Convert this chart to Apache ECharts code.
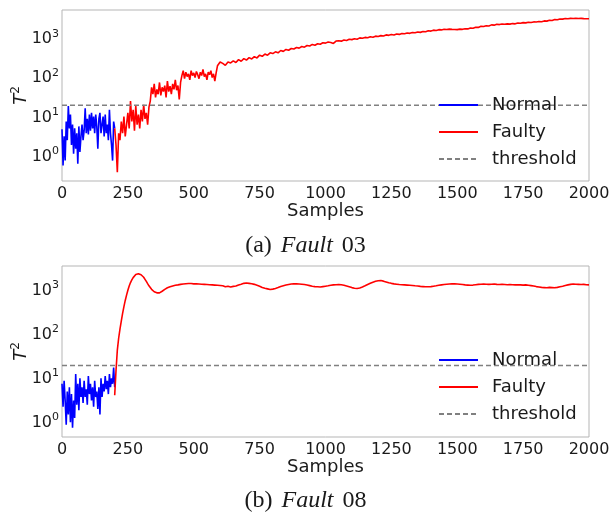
<!DOCTYPE html>
<html>
<head>
<meta charset="utf-8">
<script src="https://cdn.jsdelivr.net/npm/echarts@6/dist/echarts.min.js"></script>
<style>
  html, body { margin: 0; padding: 0; background: #fff; }
  #chart { width: 611px; height: 515px; }
</style>
</head>
<body>
<div id="chart"></div>
<script>
// x-axis ticks
var xTicks = [0, 250, 500, 750, 1000, 1250, 1500, 1750, 2000];
var threshold = 15.6;

// Fault 03 -- normal part, one value every 4 samples from 0 to 200
var normalA = [3.8, 0.45, 2.5, 0.6, 6, 2, 15, 4, 9, 1.5, 5, 0.9, 4, 1.2, 3, 0.5, 4.5, 1.0, 2.5, 5,
  2, 3.5, 13, 3, 7, 2.8, 9, 3.5, 10, 4, 8, 3, 9, 4.5, 1.2, 7, 10, 3, 5, 8,
  2.5, 9, 3, 5, 2, 12, 3, 1.5, 0.6, 6, 4];
// Fault 03 -- faulty part, every 5 samples from 200 to 600
var faultyA1 = [4, 1.5, 0.3, 3, 2, 6, 3, 8, 2.5, 5, 10, 4, 20, 6, 12, 3.5, 15, 5, 9, 4,
  12, 6, 16, 7, 10, 5, 14, 20, 45, 30, 55, 25, 40, 30, 60, 28, 45, 35, 50, 25,
  65, 35, 48, 30, 55, 40, 70, 38, 50, 22, 60, 90, 120, 75, 110, 85, 100, 70, 120, 90,
  105, 80, 115, 95, 75, 110, 90, 130, 85, 100, 70, 110, 95, 120, 80, 100, 65, 105, 160, 180,
  200];
// Fault 03 -- faulty part, every 10 samples from 610 to 2000
var faultyA2 = [185, 165, 200, 190, 215, 195, 230, 210, 245, 225, 260, 240, 275, 255, 300, 280, 320, 300, 345, 330,
  365, 345, 395, 375, 420, 400, 445, 430, 470, 455, 500, 480, 530, 515, 565, 540, 590, 570, 625, 610,
  650, 635, 600, 690, 700, 685, 735, 715, 765, 750, 790, 770, 830, 810, 855, 835, 885, 865, 920, 905,
  950, 930, 990, 965, 1010, 985, 1040, 1020, 1080, 1060, 1110, 1085, 1140, 1120, 1170, 1150, 1210, 1190, 1260, 1240,
  1310, 1290, 1350, 1330, 1380, 1360, 1390, 1370, 1360, 1350, 1390, 1375, 1430, 1410, 1490, 1470, 1560, 1540, 1640, 1620,
  1700, 1680, 1790, 1760, 1850, 1820, 1880, 1850, 1900, 1870, 1930, 1900, 1990, 1960, 2040, 2010, 2090, 2060, 2130, 2110,
  2180, 2150, 2260, 2230, 2340, 2310, 2440, 2410, 2540, 2510, 2600, 2570, 2630, 2600, 2640, 2600, 2620, 2580, 2570, 2560];

// Fault 08 -- normal part, every 4 samples from 0 to 200
var normalB = [6, 1.8, 7, 2.5, 0.7, 4, 1.2, 5, 0.8, 3.5, 0.6, 2.5, 1.0, 10, 2, 6, 1.5, 8, 3, 5,
  2.2, 7, 3, 4.5, 2, 9, 3.5, 6, 2.5, 5, 1.8, 7, 3, 4, 1.6, 5, 1.2, 8, 3, 6,
  4, 9, 4.5, 7, 3.5, 10, 5, 8, 6, 14, 5];
// Fault 08 -- faulty part, every 5 samples from 200 to 600
var faultyB1 = [3.3, 12, 35, 65, 105, 160, 240, 340, 470, 620, 800, 1000, 1200, 1380, 1550, 1700, 1820, 1880, 1900, 1870,
  1800, 1700, 1580, 1420, 1270, 1130, 1010, 910, 840, 780, 740, 710, 700, 690, 700, 720, 760, 800, 840, 880,
  910, 940, 960, 980, 1000, 1020, 1040, 1050, 1060, 1080, 1090, 1100, 1110, 1120, 1130, 1140, 1140, 1130, 1140, 1130,
  1120, 1110, 1120, 1100, 1110, 1090, 1100, 1080, 1090, 1070, 1080, 1060, 1070, 1050, 1060, 1040, 1050, 1030, 1040, 1020,
  1030];
// Fault 08 -- faulty part, every 10 samples from 610 to 2000
var faultyB2 = [1010, 960, 990, 950, 980, 1000, 1060, 1100, 1150, 1170, 1150, 1130, 1090, 1040, 990, 930, 890, 860, 830, 850,
  880, 920, 970, 1010, 1050, 1080, 1110, 1130, 1120, 1110, 1100, 1080, 1050, 1020, 990, 970, 960, 950, 970, 990,
  1010, 1040, 1060, 1070, 1080, 1070, 1040, 1000, 960, 920, 890, 880, 900, 950, 1010, 1080, 1150, 1220, 1280, 1320,
  1330, 1290, 1240, 1190, 1150, 1120, 1100, 1080, 1070, 1060, 1050, 1040, 1030, 1010, 1000, 980, 970, 960, 960, 970,
  990, 1010, 1040, 1060, 1080, 1100, 1110, 1120, 1120, 1110, 1100, 1080, 1060, 1050, 1040, 1050, 1070, 1090, 1100, 1110,
  1100, 1090, 1100, 1110, 1090, 1080, 1090, 1080, 1070, 1080, 1070, 1060, 1070, 1060, 1050, 1060, 1040, 1020, 1000, 970,
  950, 930, 920, 910, 930, 920, 910, 930, 960, 990, 1030, 1060, 1090, 1110, 1100, 1090, 1080, 1090, 1070, 1060];

function pairs(start, step, vals) {
  return vals.map(function (v, i) { return [start + i * step, v]; });
}

var chart = echarts.init(document.getElementById('chart'));
var font = 'DejaVu Sans';
var ink = '#1a1a1a';

function xAxisOf(idx) {
  return {
    type: 'value', gridIndex: idx, min: 0, max: 2000, interval: 250,
    name: 'Samples', nameLocation: 'middle', nameGap: 21, nameMoveOverlap: false,
    nameTextStyle: { fontFamily: font, fontSize: 18, color: ink },
    axisLine: { show: false }, axisTick: { show: false }, splitLine: { show: false },
    axisLabel: {
      margin: 5, fontFamily: font, fontSize: 16, color: ink,
      formatter: function (v) { return String(v); }
    }
  };
}

function yAxisOf(idx, lo, hi) {
  return {
    type: 'log', logBase: 10, gridIndex: idx, min: lo, max: hi,
    name: '{i|T}{s|2}', nameLocation: 'middle', nameGap: 30, nameRotate: 90, nameMoveOverlap: false,
    nameTextStyle: {
      rich: {
        i: { fontFamily: font, fontStyle: 'italic', fontSize: 18, color: ink },
        s: { fontFamily: font, fontSize: 12, color: ink, padding: [0, 0, 10, 0] }
      }
    },
    axisLine: { show: false }, axisTick: { show: false }, splitLine: { show: false },
    axisLabel: {
      margin: 3, showMinLabel: false, showMaxLabel: false, padding: [9, 0, 0, 0],
      formatter: function (v) {
        return '{b|10}{s|' + Math.round(Math.log10(v)) + '}';
      },
      rich: {
        b: { fontFamily: font, fontSize: 16, color: ink },
        s: { fontFamily: font, fontSize: 11, color: ink, padding: [0, 0, 10, 0] }
      }
    }
  };
}

function seriesOf(idx, normal, f1, f2) {
  var line = { type: 'line', xAxisIndex: idx, yAxisIndex: idx, symbol: 'none', showSymbol: false, animation: false };
  return [
    Object.assign({}, line, { name: 'Normal', data: pairs(0, 4, normal), lineStyle: { color: '#0000ff', width: 1.6 }, itemStyle: { color: '#0000ff' } }),
    Object.assign({}, line, { name: 'Faulty', data: pairs(200, 5, f1).concat(pairs(610, 10, f2)), lineStyle: { color: '#ff0000', width: 1.6 }, itemStyle: { color: '#ff0000' } }),
    Object.assign({}, line, { name: 'threshold', data: [[0, threshold], [2000, threshold]], lineStyle: { color: '#808080', width: 1.5, type: [5, 3] }, itemStyle: { color: '#808080' } })
  ];
}

function legendOf(top) {
  return {
    orient: 'vertical', left: 433, top: top, itemWidth: 39, itemHeight: 14, itemGap: 9,
    selectedMode: false,
    itemStyle: { opacity: 0 },
    textStyle: { fontFamily: font, fontSize: 18, color: ink, padding: [0, 0, 0, 9] },
    data: ['Normal', 'Faulty', 'threshold']
  };
}

var caption = function (letter, num, y) {
  return {
    type: 'text', left: 'center', top: y,
    style: {
      text: '{n|(' + letter + ') }{i|Fault}{n| ' + num + '}',
      rich: {
        n: { fontFamily: 'Liberation Serif', fontSize: 24, fill: ink },
        i: { fontFamily: 'Liberation Serif', fontStyle: 'italic', fontSize: 24, fill: ink, padding: [0, 3, 0, 3] }
      }
    }
  };
};

chart.setOption({
  backgroundColor: '#fff',
  animation: false,
  grid: [
    { left: 62, top: 10, width: 527, height: 171, show: true, borderColor: '#b5b5b5', borderWidth: 1, outerBoundsMode: 'none', containLabel: false },
    { left: 62, top: 266, width: 527, height: 171, show: true, borderColor: '#b5b5b5', borderWidth: 1, outerBoundsMode: 'none', containLabel: false }
  ],
  xAxis: [xAxisOf(0), xAxisOf(1)],
  yAxis: [yAxisOf(0, 0.18, 4300), yAxisOf(1, 0.37, 2850)],
  legend: [legendOf(91), legendOf(346)],
  series: seriesOf(0, normalA, faultyA1, faultyA2).concat(seriesOf(1, normalB, faultyB1, faultyB2)),
  graphic: [caption('a', '03', 234), caption('b', '08', 489)]
});
</script>
</body>
</html>
